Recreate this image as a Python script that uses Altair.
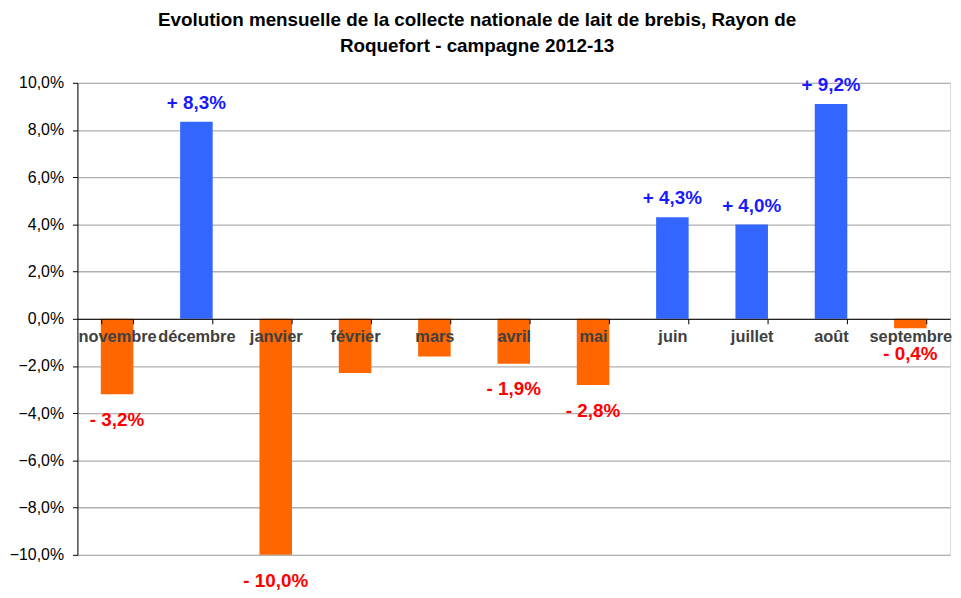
import altair as alt
import pandas as pd

months = ["novembre", "décembre", "janvier", "février", "mars", "avril",
          "mai", "juin", "juillet", "août", "septembre"]
bar_values = [-3.2, 8.35, -10.0, -2.3, -1.6, -1.9, -2.8, 4.3, 4.0, 9.1, -0.4]
label_values = [-3.2, 8.3, -10.0, None, None, -1.9, -2.8, 4.3, 4.0, 9.2, -0.4]


def fmt(v):
    if v is None:
        return ""
    s = f"{abs(v):.1f}".replace(".", ",")
    return ("+ " if v > 0 else "- ") + s + "%"


df = pd.DataFrame({
    "mois": months,
    "val": [v / 100 for v in bar_values],
    "lab": [fmt(v) for v in label_values],
    "signe": ["pos" if v > 0 else "neg" for v in bar_values],
})

x = alt.X("mois:N", sort=months, title=None,
          scale=alt.Scale(paddingInner=0.59, paddingOuter=0.295),
          axis=alt.Axis(offset=-238, tickBand="extent", labelAngle=0,
                        labelFont="Liberation Sans", labelFontSize=16.5,
                        labelFontWeight="bold", labelColor="#404040",
                        labelPadding=5, domainColor="#000000", tickColor="#000000",
                        tickSize=5, grid=False, labelOverlap=False,
                        labelBound=False, labelFlush=False, zindex=2))
y = alt.Y("val:Q", title=None,
          scale=alt.Scale(domain=[-0.1, 0.1], nice=False),
          axis=alt.Axis(values=[-0.1, -0.08, -0.06, -0.04, -0.02, 0, 0.02, 0.04, 0.06, 0.08, 0.1],
                        format=".1%", labelExpr="replace(datum.label, '.', ',')",
                        labelFont="Liberation Sans", labelFontSize=16, labelColor="#000000",
                        domainColor="#000000", tickColor="#000000", tickSize=5,
                        gridColor="#b0b0b0", gridWidth=1.3, labelPadding=9))

base = alt.Chart(df)

bars = base.mark_bar().encode(
    x=x, y=y,
    color=alt.Color("signe:N", scale=alt.Scale(domain=["pos", "neg"], range=["#3366ff", "#ff6600"]), legend=None),
)

pos_text = base.transform_filter("datum.signe == 'pos' && datum.lab != ''").mark_text(
    font="Liberation Sans", fontSize=19, fontWeight="bold", color="#1a1aff", dy=-19, baseline="middle"
).encode(x=alt.X("mois:N", sort=months), y="val:Q", text="lab:N")

neg_text = base.transform_filter("datum.signe == 'neg' && datum.lab != ''").mark_text(
    font="Liberation Sans", fontSize=19, fontWeight="bold", color="#ff0000", dy=26, baseline="middle"
).encode(x=alt.X("mois:N", sort=months), y="val:Q", text="lab:N")

chart = alt.layer(bars, pos_text, neg_text).properties(
    width=880, height=476,
    autosize=alt.AutoSizeParams(type="none"),
    padding={"left": 70, "top": 73, "right": 3, "bottom": 33},
    title=alt.TitleParams(
        ["Evolution mensuelle de la collecte nationale de lait de brebis, Rayon de",
         "Roquefort - campagne 2012-13"],
        font="Liberation Sans", fontSize=19, fontWeight="bold", color="#000000",
        anchor="middle", offset=19, lineHeight=26, dx=-37,
    ),
).configure_view(stroke=None).configure(background="white")

chart.save("out.html", embed_options={"renderer": "svg", "actions": False})
